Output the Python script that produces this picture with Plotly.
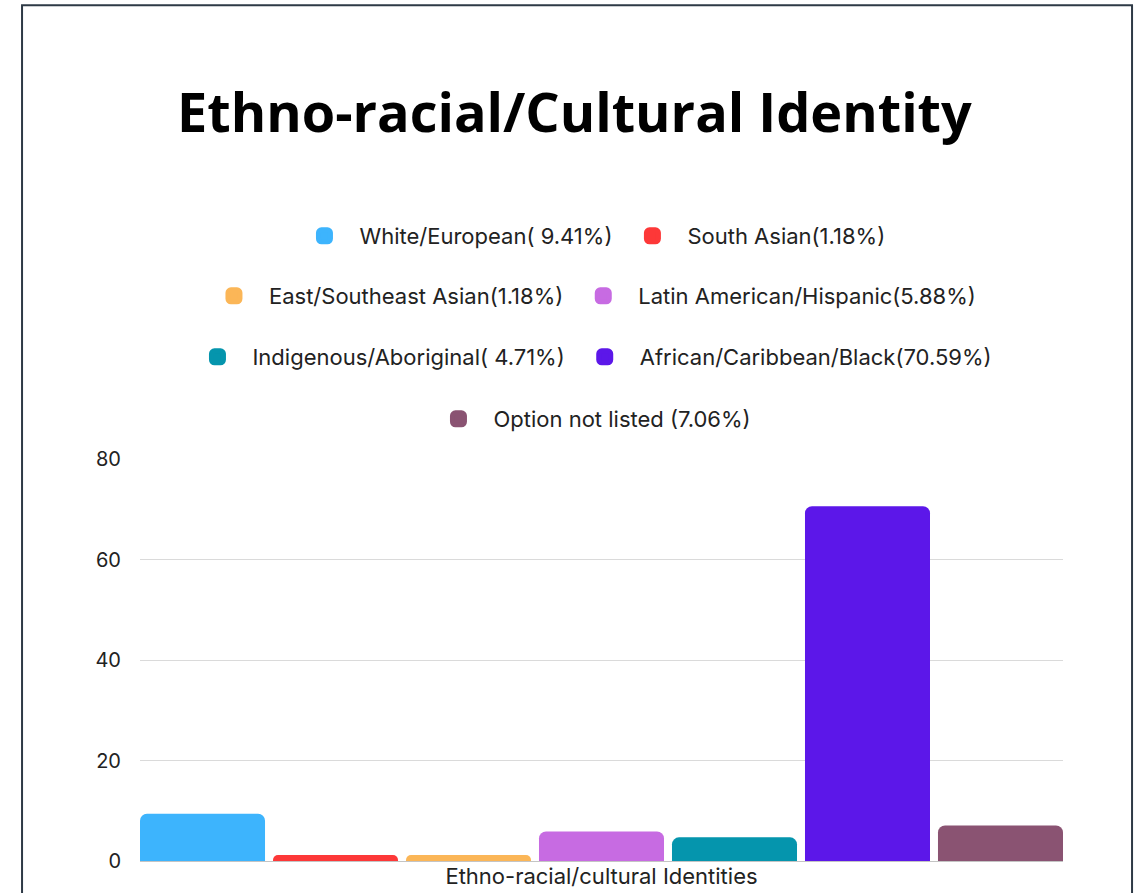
import plotly.graph_objects as go

title_text = "Ethno-racial/Cultural Identity"
category = ["Ethno-racial/cultural Identities"]
groups = [
    "White/European( 9.41%)",
    "South Asian(1.18%)",
    "East/Southeast Asian(1.18%)",
    "Latin American/Hispanic(5.88%)",
    "Indigenous/Aboriginal( 4.71%)",
    "African/Caribbean/Black(70.59%)",
    "Option not listed (7.06%)",
]
values = [9.41, 1.18, 1.18, 5.88, 4.71, 70.59, 7.06]
colors = ["#3db4fd", "#fd3838", "#fbb657", "#c76be2", "#0595ad", "#5c17e9", "#8a5372"]
legend_rows = ["legend", "legend", "legend2", "legend2", "legend3", "legend3", "legend4"]
y_ticks = [0, 20, 40, 60, 80]

FONT = "Inter, Lato, sans-serif"
GROUP_GAP = 0.06

fig = go.Figure()
# data bars
for name, v, c in zip(groups, values, colors):
    fig.add_trace(go.Bar(
        x=category, y=[v], name=name, marker=dict(color=c, line=dict(width=0)),
        showlegend=False,
    ))
# legend entries (larger square swatches), no data drawn
for name, c, lg in zip(groups, colors, legend_rows):
    fig.add_trace(go.Bar(
        x=[None], y=[None], name=name, xaxis="x2", yaxis="y2",
        marker=dict(color=c, line=dict(color=c, width=5)),
        legend=lg, hoverinfo="skip",
    ))

leg_common = dict(orientation="h", x=0.4875, xanchor="center", yanchor="middle",
                  font=dict(family=FONT, size=22, color="#222222"),
                  itemwidth=60, bgcolor="rgba(0,0,0,0)", traceorder="normal")

# trim the outer half-gaps so the outer bars meet the plot edges
edge = (1 / len(values)) * GROUP_GAP / 2

fig.update_layout(
    width=1142, height=893,
    paper_bgcolor="white", plot_bgcolor="white",
    margin=dict(l=140, r=79, t=459, b=32, autoexpand=False),
    barmode="group", bargap=0, bargroupgap=GROUP_GAP,
    barcornerradius=7,
    title=dict(text=title_text, x=0.503, xanchor="center", y=0.8732, yanchor="middle",
               font=dict(family="Open Sans, sans-serif", size=54, color="black", weight="bold")),
    legend=dict(y=1.5547, **leg_common),
    legend2=dict(y=1.4055, **leg_common),
    legend3=dict(y=1.2537, **leg_common),
    legend4=dict(y=1.0995, **leg_common),
    xaxis=dict(showgrid=False, showline=False, ticks="", automargin=False,
               range=[-0.5 + edge, 0.5 - edge], ticklabelstandoff=0,
               tickfont=dict(family=FONT, size=22, color="#222222")),
    xaxis2=dict(overlaying="x", visible=False),
    yaxis=dict(range=[0, 80], tickvals=y_ticks, showgrid=True, gridcolor="#dadada",
               gridwidth=1, zeroline=True, zerolinecolor="#c4c4c4", zerolinewidth=1,
               showline=False, ticklabelstandoff=18, automargin=False,
               tickfont=dict(family=FONT, size=20, color="#222222")),
    yaxis2=dict(overlaying="y", visible=False, range=[0, 80]),
    shapes=[dict(type="rect", xref="paper", yref="paper",
                 x0=-0.1278, x1=1.0748, y0=-0.2, y1=2.129,
                 line=dict(color="#2e3a46", width=2), layer="below")],
)

fig.write_html("out.html", config={"displayModeBar": False},
               post_script="document.body.style.margin='0px';")
